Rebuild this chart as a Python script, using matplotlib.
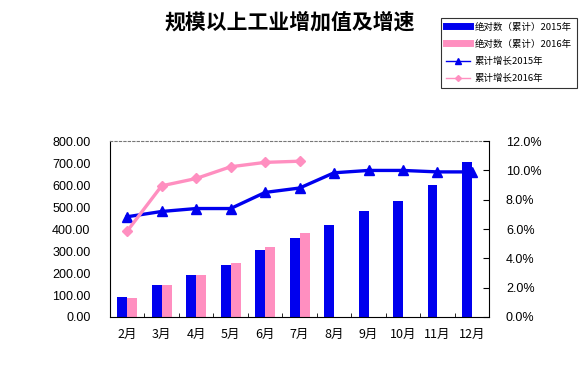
import numpy as np
import matplotlib
matplotlib.use('Agg')
from matplotlib import pyplot as plt
from matplotlib.lines import Line2D

plt.rcParams['font.family'] = ['Liberation Sans', 'Noto Sans CJK SC', 'DejaVu Sans']

# data
months = ['2月', '3月', '4月', '5月', '6月', '7月', '8月', '9月', '10月', '11月', '12月']
abs_2015 = [92, 144, 189, 238, 306, 360, 420, 483, 529, 600, 705]
abs_2016 = [88, 144, 189, 245, 318, 382]
growth_2015 = [6.84, 7.2, 7.4, 7.4, 8.5, 8.8, 9.84, 10.0, 10.0, 9.9, 9.9]
growth_2016 = [5.86, 8.95, 9.45, 10.25, 10.55, 10.63]

blue = '#0000ee'
pink = '#ff8fc0'

fig = plt.figure(figsize=(5.88, 3.71), dpi=100)
ax = fig.add_axes([0.187, 0.1456, 0.645, 0.474])
x = np.arange(len(months))
w = 0.29
ax.bar(x - w / 2, abs_2015, width=w, color=blue, zorder=2)
ax.bar(np.arange(len(abs_2016)) + w / 2, abs_2016, width=w, color=pink, zorder=2)
ax.set_xlim(-0.5, len(months) - 0.5)
ax.set_ylim(0, 800)
ax.set_yticks(np.arange(0, 801, 100))
ax.set_yticklabels([f'{v:.2f}' for v in range(0, 801, 100)], fontsize=9)
ax.tick_params(axis='y', length=0, pad=14)
ax.set_xticks(x)
ax.set_xticklabels(months, fontsize=9, family=['Noto Sans CJK SC'])
ax.tick_params(axis='x', length=0, pad=8)
ax.set_xticks(np.arange(0.5, len(months) - 0.5), minor=True)
ax.tick_params(axis='x', which='minor', direction='in', length=3)
ax.spines['top'].set_linestyle((0, (2, 2)))
ax.spines['top'].set_color('#777777')
ax.spines['right'].set_visible(False)

ax2 = ax.twinx()
ax2.plot(x, growth_2015, color=blue, lw=2.4, marker='^', ms=7.5, zorder=3)
ax2.plot(np.arange(len(growth_2016)), growth_2016, color=pink, lw=2.4, marker='D', ms=5.5, zorder=3)
ax2.set_ylim(0, 12)
ax2.set_yticks(np.arange(0, 12.1, 2))
ax2.set_yticklabels([f'{v:.1f}%' for v in range(0, 13, 2)], fontsize=9)
ax2.tick_params(axis='y', direction='in', length=4, pad=12)
ax2.spines['top'].set_visible(False)
ax2.spines['left'].set_visible(False)
ax2.spines['bottom'].set_visible(False)

fig.text(0.493, 0.94, '规模以上工业增加值及增速', fontsize=15, fontweight='bold',
         ha='center', va='center', family=['Noto Sans CJK SC'])

handles = [
    Line2D([], [], color=blue, lw=5),
    Line2D([], [], color=pink, lw=5),
    Line2D([], [], color=blue, lw=1, marker='^', ms=5),
    Line2D([], [], color=pink, lw=1, marker='D', ms=3),
]
labels = ['绝对数（累计）2015年', '绝对数（累计）2016年', '累计增长2015年', '累计增长2016年']
leg = fig.legend(handles, labels, loc='upper left', bbox_to_anchor=(0.75, 0.952),
                 prop={'family': ['Noto Sans CJK SC'], 'size': 6.8}, frameon=True,
                 fancybox=False, edgecolor='black', handlelength=2.6,
                 handletextpad=0.5, borderpad=0.5, labelspacing=0.85, borderaxespad=0)
leg.get_frame().set_linewidth(0.8)

fig.savefig('out.png', dpi=100)
